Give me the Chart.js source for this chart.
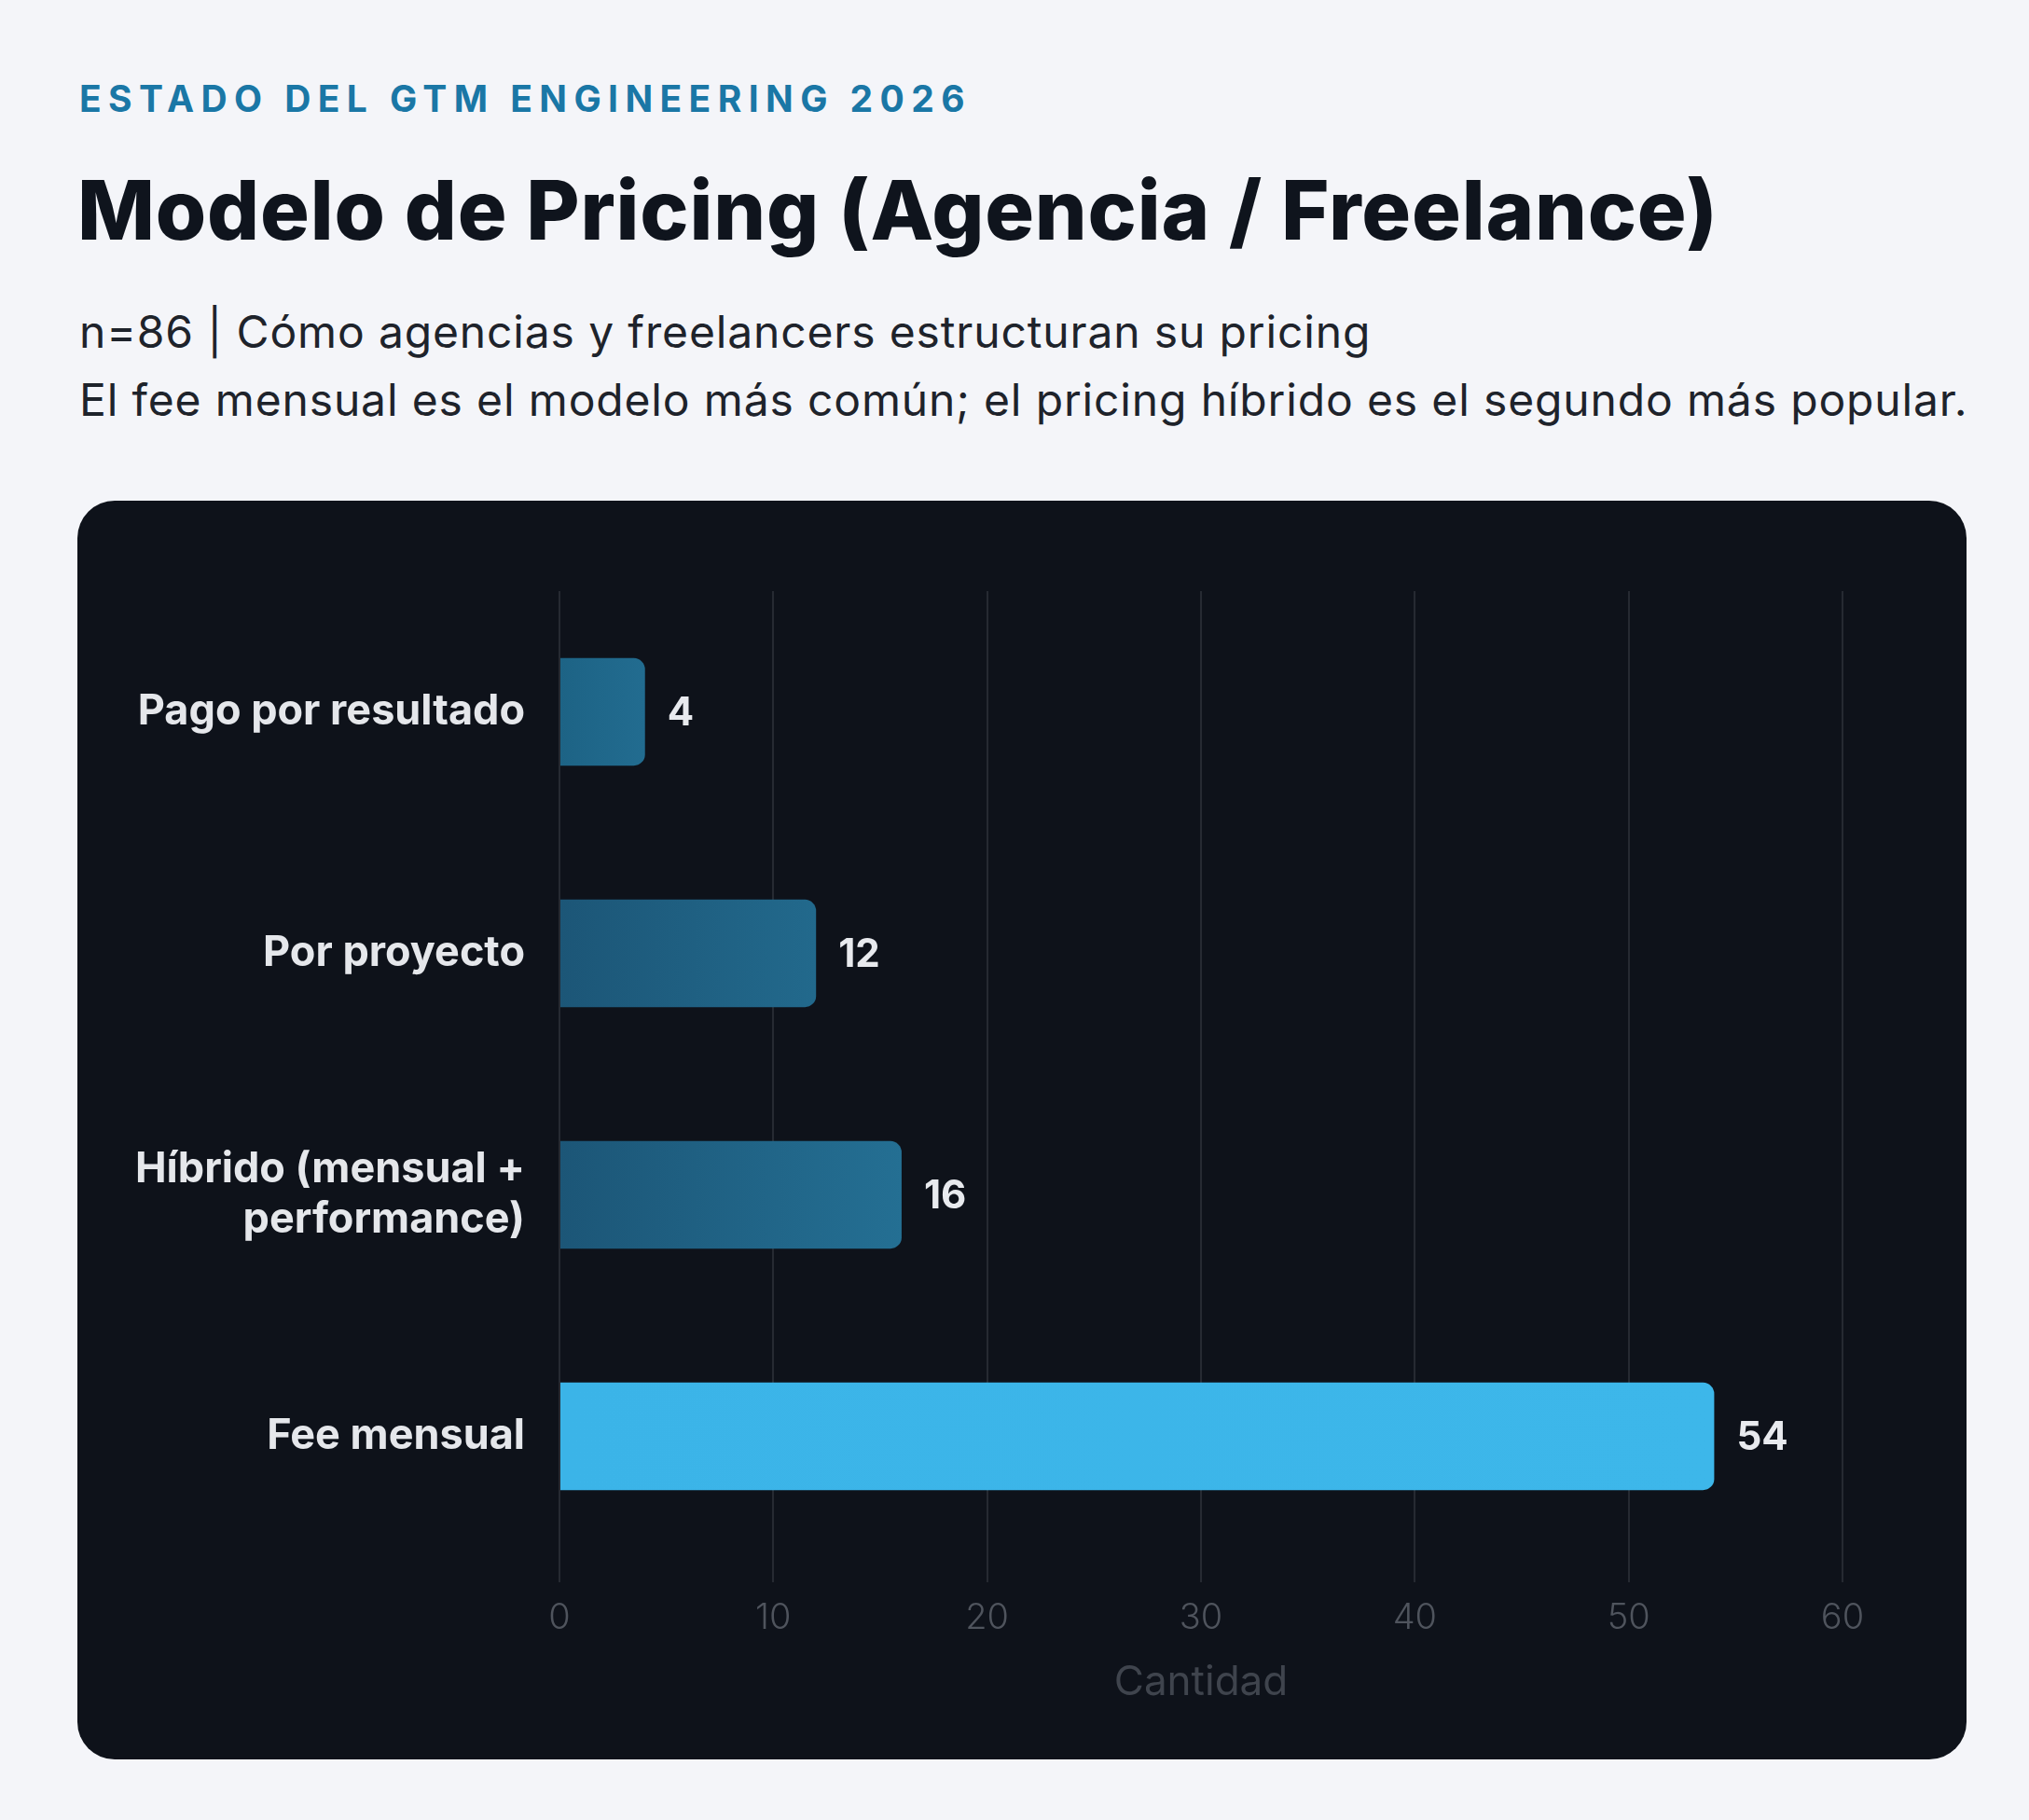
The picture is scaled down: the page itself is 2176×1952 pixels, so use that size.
<!DOCTYPE html>
<html>
<head>
<meta charset="utf-8">
<script src="https://cdn.jsdelivr.net/npm/chart.js@4.4.1/dist/chart.umd.min.js"></script>
<style>
    body {
        margin: 0;
        width: 2176px;
        height: 1952px;
        background: #f4f5f9;
        font-family: Inter, "Noto Sans", sans-serif;
        position: relative;
        overflow: hidden;
    }
    #kicker {
        position: absolute;
        left: 85px;
        top: 82px;
        font-size: 39px;
        font-weight: 700;
        letter-spacing: 7.4px;
        color: #1a77a6;
    }
    #title {
        position: absolute;
        left: 83px;
        top: 172px;
        font-size: 88px;
        font-weight: 800;
        color: #0f141d;
        letter-spacing: 0.8px;
    }
    .sub {
        position: absolute;
        left: 85px;
        font-size: 48px;
        font-weight: 400;
        color: #1e232b;
        letter-spacing: 0.85px;
    }
    #card {
        position: absolute;
        left: 83px;
        top: 537px;
        width: 2026px;
        height: 1350px;
        border-radius: 40px;
        background: #0e121a;
        overflow: hidden;
    }
    #chart {
        position: absolute;
        left: 0;
        top: 0;
    }
</style>
</head>
<body>
<div id="kicker">ESTADO DEL GTM ENGINEERING 2026</div>
<div id="title">Modelo de Pricing (Agencia / Freelance)</div>
<div class="sub" style="top:326px">n=86 | Cómo agencias y freelancers estructuran su pricing</div>
<div class="sub" style="top:399px">El fee mensual es el modelo más común; el pricing híbrido es el segundo más popular.</div>
<div id="card"><canvas id="chart" width="2026" height="1350"></canvas></div>

<script>
const categories = [
    "Pago por resultado",
    "Por proyecto",
    ["Híbrido (mensual +", "performance)"],
    "Fee mensual"
];
const counts = [4, 12, 16, 54];
const xTicks = [0, 10, 20, 30, 40, 50, 60];
const axisTitle = "Cantidad";

// left / right colour of each bar
const barColorsFrom = ["#1d6385", "#1c5677", "#1c5677", "#3bb4e8"];
const barColorsTo = ["#226c90", "#22698c", "#246f93", "#3db7ea"];

const FONT = "Inter, 'Noto Sans', sans-serif";

function barGradient(context) {
    const chart = context.chart;
    const i = context.dataIndex;
    const xScale = chart.scales.x;
    if (!xScale || !chart.chartArea) {
        return barColorsFrom[i];
    }
    const x0 = xScale.getPixelForValue(0);
    const x1 = xScale.getPixelForValue(counts[i]);
    const g = chart.ctx.createLinearGradient(x0, 0, x1, 0);
    g.addColorStop(0, barColorsFrom[i]);
    g.addColorStop(1, barColorsTo[i]);
    return g;
}

// draw the value next to the end of each bar
const valueLabels = {
    id: "valueLabels",
    afterDatasetsDraw(chart) {
        const ctx = chart.ctx;
        const meta = chart.getDatasetMeta(0);
        ctx.save();
        ctx.font = "700 42px " + FONT;
        ctx.fillStyle = "#e8eaee";
        ctx.textAlign = "left";
        ctx.textBaseline = "middle";
        meta.data.forEach((bar, i) => {
            ctx.fillText(String(counts[i]), bar.x + 24, bar.y + 2);
        });
        ctx.restore();
    }
};

new Chart(document.getElementById("chart"), {
    type: "bar",
    data: {
        labels: categories,
        datasets: [{
            data: counts,
            backgroundColor: barGradient,
            borderRadius: 12,
            borderSkipped: "start",
            barPercentage: 0.445,
            categoryPercentage: 1
        }]
    },
    options: {
        indexAxis: "y",
        responsive: false,
        animation: false,
        devicePixelRatio: 1,
        layout: {
            padding: { top: 97, right: 133, bottom: 0, left: 0 }
        },
        plugins: {
            legend: { display: false },
            tooltip: { enabled: false }
        },
        scales: {
            x: {
                min: xTicks[0],
                max: xTicks[xTicks.length - 1],
                afterBuildTicks(scale) {
                    scale.ticks = xTicks.map((v) => ({ value: v }));
                },
                afterFit(scale) {
                    scale.height = 217;
                },
                border: { display: false },
                grid: {
                    color: "#262a32",
                    lineWidth: 2,
                    drawTicks: true,
                    tickLength: 27
                },
                ticks: {
                    color: "#4f545d",
                    padding: 16,
                    font: { family: FONT, size: 38, weight: "300" }
                },
                title: {
                    display: true,
                    text: axisTitle,
                    color: "#3f444d",
                    font: { family: FONT, size: 44, weight: "400" },
                    padding: { top: 0, bottom: 56 }
                }
            },
            y: {
                afterFit(scale) {
                    scale.width = 517;
                },
                border: { display: false },
                grid: { display: false, drawTicks: false },
                ticks: {
                    color: "#e5e7eb",
                    padding: 37,
                    font: { family: FONT, size: 45, weight: "700", lineHeight: 1.2 }
                }
            }
        }
    },
    plugins: [valueLabels]
});
</script>
</body>
</html>
